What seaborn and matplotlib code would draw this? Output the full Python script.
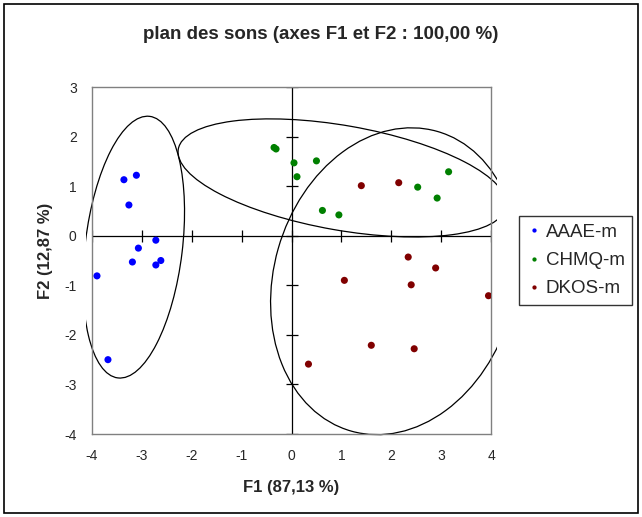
import numpy as np
import pandas as pd
import matplotlib
matplotlib.use("Agg")
import matplotlib.pyplot as plt
from matplotlib.patches import Ellipse, Rectangle
import seaborn as sns

# Coordinates of the sounds on the first factorial plane
aaae_f1 = [-3.36, -3.11, -3.26, -2.72, -3.07, -3.19, -2.62, -2.72, -3.90, -3.68]
aaae_f2 = [1.13, 1.22, 0.62, -0.09, -0.25, -0.53, -0.50, -0.59, -0.81, -2.50]

chmq_f1 = [-0.35, -0.31, 0.05, 0.50, 0.11, 0.62, 0.95, 2.53, 2.92, 3.15]
chmq_f2 = [1.78, 1.75, 1.47, 1.51, 1.19, 0.51, 0.42, 0.98, 0.76, 1.29]

dkos_f1 = [1.40, 2.15, 2.34, 2.89, 1.06, 2.40, 3.95, 1.60, 2.46, 0.34]
dkos_f2 = [1.01, 1.07, -0.43, -0.65, -0.90, -0.99, -1.21, -2.21, -2.28, -2.59]

groups = ["AAAE-m", "CHMQ-m", "DKOS-m"]
colors = ["#0000FF", "#008000", "#800000"]

x_ticks = list(range(-4, 5))
y_ticks = list(range(-4, 4))

df = pd.DataFrame({
    "F1": aaae_f1 + chmq_f1 + dkos_f1,
    "F2": aaae_f2 + chmq_f2 + dkos_f2,
    "groupe": [groups[0]] * len(aaae_f1) + [groups[1]] * len(chmq_f1) + [groups[2]] * len(dkos_f1),
})

sns.set_style("white")
plt.rcParams["font.family"] = ["Liberation Sans", "DejaVu Sans"]
plt.rcParams["axes.unicode_minus"] = False

fig = plt.figure(figsize=(6.42, 5.17), dpi=100)
ax = fig.add_axes([0.1433, 0.1605, 0.6215, 0.6712])

# Axes through the origin with crossing ticks
ax.axhline(0, color="black", lw=0.9, zorder=1)
ax.axvline(0, color="black", lw=0.9, zorder=1)
ax.plot(x_ticks, np.zeros(len(x_ticks)), ls="none", marker="|", ms=8, mew=0.9, color="black", zorder=1)
ax.plot(np.zeros(len(y_ticks)), y_ticks, ls="none", marker="_", ms=8, mew=0.9, color="black", zorder=1)

sns.scatterplot(data=df, x="F1", y="F2", hue="groupe", palette=colors,
                s=26, edgecolor="none", ax=ax, zorder=3)

# 95 % confidence ellipses for each group
clip_rect = Rectangle((-0.015, -0.012), 1.03, 1.024, transform=ax.transAxes,
                      facecolor="none", edgecolor="none")
ax.add_patch(clip_rect)
for g in groups:
    sub = df[df["groupe"] == g]
    cov = np.cov(sub["F1"], sub["F2"])
    vals, vecs = np.linalg.eigh(cov)
    order = vals.argsort()[::-1]
    vals, vecs = vals[order], vecs[:, order]
    angle = np.degrees(np.arctan2(vecs[1, 0], vecs[0, 0]))
    w, h = 2 * np.sqrt(5.991 * vals)
    ell = Ellipse((sub["F1"].mean(), sub["F2"].mean()), w, h, angle=angle,
                  facecolor="none", edgecolor="black", lw=0.9, zorder=2)
    ax.add_patch(ell)
    ell.set_clip_path(clip_rect)

ax.set_xlim(-4, 4)
ax.set_ylim(-4, 3)
ax.set_xticks(x_ticks)
ax.set_yticks(y_ticks)
ax.tick_params(length=0, labelsize=10, pad=11)
for sp in ax.spines.values():
    sp.set_color("#808080")
    sp.set_linewidth(1.0)

ax.set_xlabel("F1 (87,13 %)", fontsize=12, fontweight="bold", labelpad=12)
ax.set_ylabel("F2 (12,87 %)", fontsize=12, fontweight="bold", labelpad=8)
ax.yaxis.set_label_coords(-0.098, 0.527)
fig.suptitle("plan des sons (axes F1 et F2 : 100,00 %)", fontsize=13.5, fontweight="bold", y=0.95)

leg = ax.legend(loc="center left", bbox_to_anchor=(1.07, 0.5), frameon=True,
                fancybox=False, fontsize=13.5, markerscale=0.6, handletextpad=0.2,
                handlelength=0.8, borderpad=0.42, labelspacing=0.6, borderaxespad=0.0)
leg.get_frame().set_edgecolor("black")
leg.get_frame().set_linewidth(1.0)
leg.set_title(None)

# Outer frame of the chart
fig.patches.append(Rectangle((0.006, 0.008), 0.987, 0.984, transform=fig.transFigure,
                             facecolor="none", edgecolor="black", lw=1.2))

fig.savefig("out.png", dpi=100)
